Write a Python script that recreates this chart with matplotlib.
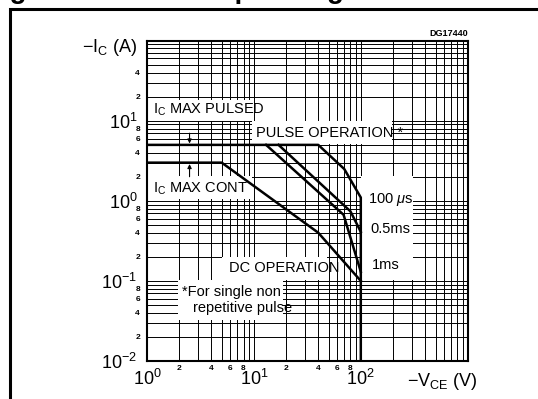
import matplotlib
matplotlib.use("Agg")
import numpy as np
import matplotlib.pyplot as plt
from matplotlib.patches import Rectangle
from matplotlib.ticker import LogLocator, FuncFormatter

# safe operating area, -V_CE (V) vs -I_C (A)
dc_v = [1, 5, 40, 100]
dc_i = [3, 3, 0.4, 0.1]
ms1_v = [13, 69, 100]
ms1_i = [5, 0.67, 0.13]
ms05_v = [17, 80, 100]
ms05_i = [5, 0.74, 0.41]
us100_v = [1, 40, 70, 100, 100]
us100_i = [5, 5, 2.5, 1.1, 0.01]

ic_pulsed = 5
ic_cont = 3
minor_labels = [2, 4, 6, 8]

W, H = 538, 399
plt.rcParams['font.family'] = ['Liberation Sans', 'DejaVu Sans']
plt.rcParams['mathtext.fontset'] = 'custom'
plt.rcParams['mathtext.rm'] = 'Liberation Sans'
plt.rcParams['mathtext.it'] = 'Liberation Sans:italic'

fig = plt.figure(figsize=(W / 100, H / 100), dpi=100)

def fx(x):
    return x / W

def fy(y):
    return 1 - y / H

ax = fig.add_axes([fx(147), fy(361), (467.7 - 147) / W, (361 - 40.7) / H])
ax.set_xscale('log')
ax.set_yscale('log')
ax.set_xlim(1, 1000)
ax.set_ylim(0.01, 100)

for axis in (ax.xaxis, ax.yaxis):
    axis.set_major_locator(LogLocator(base=10))
    axis.set_minor_locator(LogLocator(base=10, subs=np.arange(2, 10)))

def major_fmt(limit):
    def f(v, pos):
        if v >= limit:
            return ''
        return r'$\mathregular{10^{%d}}$' % round(np.log10(v))
    return FuncFormatter(f)

def minor_fmt(limit):
    def f(v, pos):
        e = np.floor(np.log10(v))
        m = int(round(v / 10 ** e))
        if m in minor_labels and v < limit:
            return str(m)
        return ''
    return FuncFormatter(f)

ax.xaxis.set_major_formatter(major_fmt(1000))
ax.yaxis.set_major_formatter(major_fmt(100))
ax.xaxis.set_minor_formatter(minor_fmt(100))
ax.yaxis.set_minor_formatter(minor_fmt(50))

ax.grid(True, which='both', color='black', lw=0.7)
ax.set_axisbelow(True)
ax.tick_params(which='both', length=0)
ax.tick_params(which='major', labelsize=13)
ax.tick_params(axis='x', which='major', pad=6)
ax.tick_params(axis='y', which='major', pad=7)
ax.tick_params(axis='x', which='minor', labelsize=6, pad=3)
ax.tick_params(axis='y', which='minor', labelsize=6, pad=5)
for lab in ax.get_xticklabels(minor=True) + ax.get_yticklabels(minor=True):
    lab.set_fontweight('bold')
for s in ax.spines.values():
    s.set_linewidth(1.5)

# white areas behind the labels
masks = [(0, 0.749, 0.334, 0.066), (0.327, 0.678, 0.437, 0.071),
         (0, 0.506, 0.327, 0.072), (0.667, 0.253, 0.162, 0.325),
         (0.234, 0.253, 0.327, 0.072), (0.097, 0.128, 0.327, 0.125)]
for x0, y0, w, h in masks:
    ax.add_patch(Rectangle((x0, y0), w, h, transform=ax.transAxes,
                           facecolor='white', edgecolor='none', zorder=1.5))

lw = 1.8
ax.plot(dc_v, dc_i, color='black', lw=lw, zorder=4)
ax.plot(ms1_v, ms1_i, color='black', lw=lw, zorder=4)
ax.plot(ms05_v, ms05_i, color='black', lw=lw, zorder=4)
ax.plot(us100_v, us100_i, color='black', lw=lw, zorder=4)

arrow = dict(arrowstyle='-|>', lw=0.8, color='black', mutation_scale=6,
             shrinkA=0, shrinkB=1)
ax.annotate('', xy=(2.5, ic_pulsed), xytext=(2.5, 7.0), arrowprops=arrow, zorder=4)
ax.annotate('', xy=(2.5, ic_cont), xytext=(2.5, 2.0), arrowprops=arrow, zorder=4)

ts = 10.5
fig.text(fx(153), fy(110), r'$\mathregular{I_C}$ MAX PULSED', va='center', fontsize=ts)
fig.text(fx(256), fy(133), 'PULSE OPERATION *', va='center', fontsize=ts)
fig.text(fx(153), fy(189), r'$\mathregular{I_C}$ MAX CONT', va='center', fontsize=ts)
fig.text(fx(368), fy(200), r'100 $\mu$s', va='center', fontsize=ts)
fig.text(fx(370), fy(229), '0.5ms', va='center', fontsize=ts)
fig.text(fx(372), fy(265), '1ms', va='center', fontsize=ts)
fig.text(fx(229), fy(268), 'DC OPERATION', va='center', fontsize=ts)
fig.text(fx(182), fy(292), '*For single non', va='center', fontsize=ts)
fig.text(fx(193), fy(308), 'repetitive pulse', va='center', fontsize=ts)
fig.text(fx(468), fy(33), 'DG17440', va='center', ha='right', fontsize=6.5, fontweight='bold')

fig.text(fx(137), fy(48), r'$-\mathregular{I_C}$ (A)', va='center', ha='right', fontsize=13)
fig.text(fx(407), fy(381), r'$-\mathregular{V_{CE}}$ (V)', va='center', ha='left', fontsize=13)

# clipped caption above the frame
fig.text(fx(-15), 1 + 2 / H, 'Figure 2.', fontsize=20, fontweight='bold', va='baseline')
fig.text(fx(151), 1 + 2 / H, 'Safe operating area', fontsize=20, fontweight='bold',
         va='baseline')

fig.add_artist(Rectangle((fx(10), -0.2), 2, fy(9) + 0.2, transform=fig.transFigure,
                         fill=False, edgecolor='black', lw=2.2))

fig.savefig('out.png', dpi=100)
